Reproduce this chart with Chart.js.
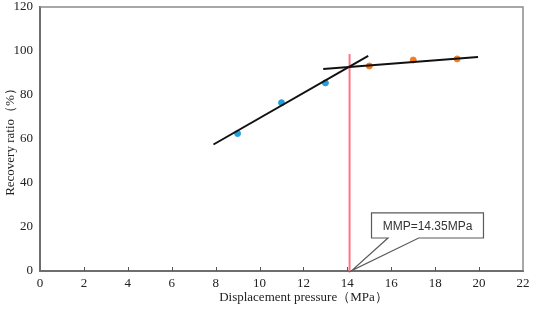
<!DOCTYPE html>
<html>
<head>
<meta charset="utf-8">
<script src="https://cdn.jsdelivr.net/npm/chart.js@4.4.0/dist/chart.umd.min.js"></script>
<style>
  body { margin: 0; background: #fff; }
  #wrap { width: 533px; height: 314px; }
</style>
</head>
<body>
<div id="wrap"><canvas id="mmpChart"></canvas></div>
<script>
// Data
const xTicks = [0, 2, 4, 6, 8, 10, 12, 14, 16, 18, 20, 22];
const yTicks = [0, 20, 40, 60, 80, 100, 120];

const beforeX = [9, 11, 13];
const beforeY = [62.5, 76.5, 85.5];
const afterX = [15, 17, 19];
const afterY = [93.2, 95.9, 96.4];

// fitted lines (end points)
const fit1X = [7.9, 14.95];
const fit1Y = [57.5, 97.8];
const fit2X = [12.9, 19.95];
const fit2Y = [91.8, 97.3];

// MMP marker line
const mmpX = [14.1, 14.1];
const mmpY = [0, 98.6];

// callout: box corners, pointer base x, tip
const calloutText = 'MMP=14.35MPa';
const calloutBoxX = [15.1, 20.2];
const calloutBoxY = [26.4, 15.0];
const calloutBaseX = [15.85, 17.25];
const calloutTip = [14.2, 0.2];

const xTitle = 'Displacement pressure（MPa）';
const xTitleCenter = 12;

const serif = '"Liberation Serif", "Times New Roman", serif';

const toPts = (xs, ys) => xs.map((x, i) => ({ x: x, y: ys[i] }));

// frame + small inward ticks + callout + x title
const extras = {
    id: 'extras',
    afterDraw(chart) {
        const c = chart.ctx;
        const a = chart.chartArea;
        const sx = chart.scales.x, sy = chart.scales.y;
        c.save();
        // top/right frame
        c.strokeStyle = '#8a8a8a';
        c.lineWidth = 1.5;
        c.beginPath();
        c.moveTo(a.left, a.top);
        c.lineTo(a.right, a.top);
        c.lineTo(a.right, a.bottom);
        c.stroke();
        // inward ticks on the x axis
        c.strokeStyle = '#555';
        c.lineWidth = 1;
        xTicks.slice(1, -1).forEach(v => {
            const px = Math.round(sx.getPixelForValue(v)) + 0.5;
            c.beginPath();
            c.moveTo(px, a.bottom);
            c.lineTo(px, a.bottom - 4);
            c.stroke();
        });
        // callout
        const bx1 = sx.getPixelForValue(calloutBoxX[0]);
        const bx2 = sx.getPixelForValue(calloutBoxX[1]);
        const by1 = sy.getPixelForValue(calloutBoxY[0]);
        const by2 = sy.getPixelForValue(calloutBoxY[1]);
        const p1 = sx.getPixelForValue(calloutBaseX[0]);
        const p2 = sx.getPixelForValue(calloutBaseX[1]);
        const tx = sx.getPixelForValue(calloutTip[0]);
        const ty = sy.getPixelForValue(calloutTip[1]);
        c.fillStyle = '#fff';
        c.strokeStyle = '#5a5a5a';
        c.lineWidth = 1.2;
        c.beginPath();
        c.moveTo(bx1, by1);
        c.lineTo(bx2, by1);
        c.lineTo(bx2, by2);
        c.lineTo(p2, by2);
        c.lineTo(tx, ty);
        c.lineTo(p1, by2);
        c.lineTo(bx1, by2);
        c.closePath();
        c.fill();
        c.stroke();
        c.fillStyle = '#333';
        c.font = '12px "Liberation Sans", Arial, sans-serif';
        c.textAlign = 'center';
        c.textBaseline = 'middle';
        c.fillText(calloutText, (bx1 + bx2) / 2, (by1 + by2) / 2 + 1);
        // x axis title (sits a little right of centre in the original)
        c.fillStyle = '#222';
        c.font = '13px ' + serif;
        c.fillText(xTitle, sx.getPixelForValue(xTitleCenter), sx.bottom - 16);
        c.restore();
    }
};

const config = {
    type: 'scatter',
    data: {
        datasets: [
            {
                label: 'fit1',
                data: toPts(fit1X, fit1Y),
                showLine: true,
                borderColor: '#111',
                borderWidth: 2,
                pointRadius: 0
            },
            {
                label: 'fit2',
                data: toPts(fit2X, fit2Y),
                showLine: true,
                borderColor: '#111',
                borderWidth: 2,
                pointRadius: 0
            },
            {
                label: 'MMP',
                data: toPts(mmpX, mmpY),
                showLine: true,
                borderColor: '#ff7482',
                borderWidth: 2,
                pointRadius: 0
            },
            {
                label: 'before',
                data: toPts(beforeX, beforeY),
                backgroundColor: '#259fdc',
                borderColor: '#259fdc',
                pointRadius: 3
            },
            {
                label: 'after',
                data: toPts(afterX, afterY),
                backgroundColor: '#f27c22',
                borderColor: '#f27c22',
                pointRadius: 3
            }
        ]
    },
    options: {
        responsive: true,
        maintainAspectRatio: false,
        animation: false,
        layout: { padding: { top: 7, right: 10, left: 0, bottom: 0 } },
        plugins: {
            legend: { display: false },
            tooltip: { enabled: false }
        },
        scales: {
            x: {
                type: 'linear',
                min: 0,
                max: 22,
                afterBuildTicks: s => { s.ticks = xTicks.map(v => ({ value: v })); },
                afterFit: s => { s.height = 43; s.paddingLeft = 0; s.paddingRight = 0; },
                grid: { drawOnChartArea: false, drawTicks: false },
                border: { color: '#6e6e6e', width: 2 },
                ticks: { color: '#222', padding: 5, font: { family: serif, size: 13 }, maxRotation: 0 }
            },
            y: {
                min: 0,
                max: 120,
                afterBuildTicks: s => { s.ticks = yTicks.map(v => ({ value: v })); },
                afterFit: s => { s.width = 40; s.paddingTop = 0; s.paddingBottom = 0; },
                grid: { drawOnChartArea: false, drawTicks: false },
                border: { color: '#6e6e6e', width: 2 },
                ticks: { color: '#222', padding: 7, font: { family: serif, size: 13 } },
                title: {
                    display: true,
                    text: 'Recovery ratio（%）',
                    color: '#222',
                    font: { family: serif, size: 13 },
                    padding: { top: 3, bottom: 0 }
                }
            }
        }
    },
    plugins: [extras]
};

new Chart(document.getElementById('mmpChart').getContext('2d'), config);
</script>
</body>
</html>
